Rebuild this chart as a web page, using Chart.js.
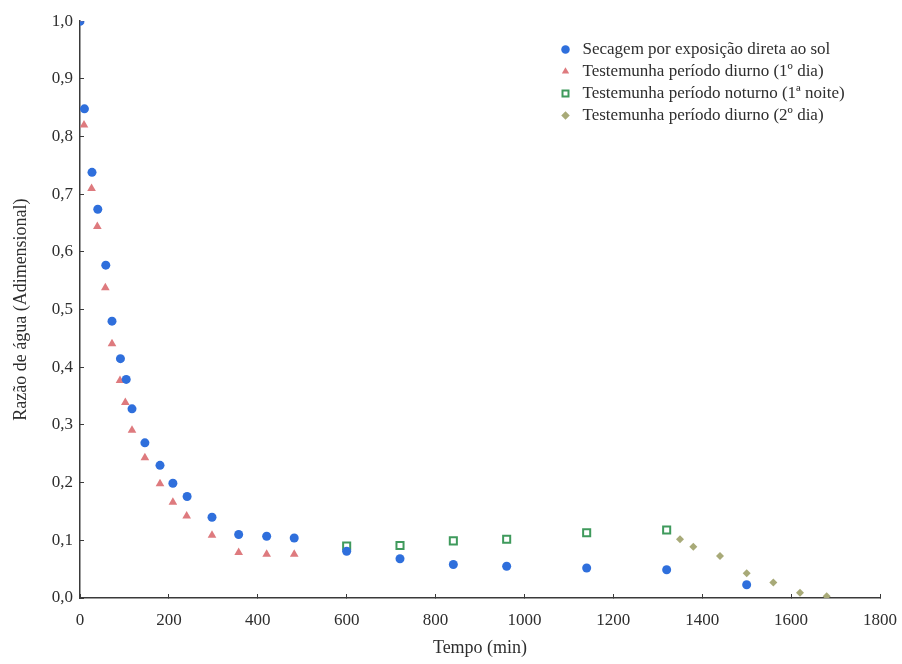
<!DOCTYPE html>
<html>
<head>
<meta charset="utf-8">
<script src="https://cdn.jsdelivr.net/npm/chart.js@4.4.1/dist/chart.umd.min.js"></script>
<style>
  body { margin: 0; background: #fff; }
  #wrap { width: 902px; height: 664px; }
</style>
</head>
<body>
<div id="wrap"><canvas id="myChart" width="902" height="664"></canvas></div>
<script>
// tempo (min) e razão de água
const tempoSol = [0, 10, 27, 40, 58, 72, 91, 104, 117, 146, 180, 209, 241, 297, 357, 420, 482, 600, 720, 840, 960, 1140, 1320, 1500];
const razaoSol = [1.0, 0.848, 0.738, 0.674, 0.577, 0.480, 0.415, 0.379, 0.328, 0.269, 0.230, 0.199, 0.176, 0.140, 0.110, 0.107, 0.104, 0.081, 0.068, 0.058, 0.055, 0.052, 0.049, 0.023];

const tempoDia1 = [0, 9, 26, 39, 57, 72, 90, 102, 117, 146, 180, 209, 240, 297, 357, 420, 482];
const razaoDia1 = [1.0, 0.820, 0.710, 0.644, 0.538, 0.441, 0.377, 0.339, 0.291, 0.243, 0.198, 0.166, 0.142, 0.109, 0.079, 0.076, 0.076];

const tempoNoite = [600, 720, 840, 960, 1140, 1320];
const razaoNoite = [0.090, 0.091, 0.099, 0.102, 0.113, 0.118];

const tempoDia2 = [1350, 1380, 1440, 1500, 1560, 1620, 1680];
const razaoDia2 = [0.102, 0.089, 0.073, 0.043, 0.027, 0.009, 0.003];

const seriesNames = [
    'Secagem por exposição direta ao sol',
    'Testemunha período diurno (1º dia)',
    'Testemunha período noturno (1ª noite)',
    'Testemunha período diurno (2º dia)'
];

const xTicks = [0, 200, 400, 600, 800, 1000, 1200, 1400, 1600, 1800];
const yTicks = [0, 0.1, 0.2, 0.3, 0.4, 0.5, 0.6, 0.7, 0.8, 0.9, 1.0];

function toPoints(xs, ys) {
    return xs.map((x, i) => ({ x: x, y: ys[i] }));
}

const serif = 'Liberation Serif, Times New Roman, serif';
const textColor = '#2e2e2e';

// move the legend to the top right corner of the plot
const legendPlace = {
    id: 'legendPlace',
    afterLayout(chart) {
        const lg = chart.legend;
        const w = lg.width, h = lg.height;
        lg.left = 552;
        lg.right = lg.left + w;
        lg.top = 36;
        lg.bottom = lg.top + h;
    }
};

const ctx = document.getElementById('myChart');

new Chart(ctx, {
    type: 'scatter',
    data: {
        datasets: [{
            label: seriesNames[0],
            data: toPoints(tempoSol, razaoSol),
            pointStyle: 'circle',
            pointRadius: 4.5,
            backgroundColor: '#2f6fdc',
            borderColor: '#2f6fdc',
            borderWidth: 0
        }, {
            label: seriesNames[1],
            data: toPoints(tempoDia1, razaoDia1),
            pointStyle: 'triangle',
            pointRadius: 5,
            backgroundColor: '#de7a7e',
            borderColor: '#de7a7e',
            borderWidth: 0
        }, {
            label: seriesNames[2],
            data: toPoints(tempoNoite, razaoNoite),
            pointStyle: 'rect',
            pointRadius: 5,
            backgroundColor: '#ffffff',
            borderColor: '#3f9a5c',
            borderWidth: 2
        }, {
            label: seriesNames[3],
            data: toPoints(tempoDia2, razaoDia2),
            pointStyle: 'rectRot',
            pointRadius: 4,
            backgroundColor: '#a8aa78',
            borderColor: '#a8aa78',
            borderWidth: 0
        }]
    },
    options: {
        responsive: false,
        animation: false,
        layout: {
            padding: { top: 20, right: 22, left: 0, bottom: 0 }
        },
        plugins: {
            tooltip: { enabled: false },
            legend: {
                position: 'chartArea',
                align: 'start',
                labels: {
                    usePointStyle: true,
                    boxHeight: 6,
                    padding: 5,
                    color: textColor,
                    font: { family: serif, size: 17 }
                }
            }
        },
        scales: {
            x: {
                type: 'linear',
                min: 0,
                max: 1800,
                afterFit: s => { s.height = 66; s.paddingLeft = 0; s.paddingRight = 0; },
                afterBuildTicks: s => { s.ticks = xTicks.map(v => ({ value: v })); },
                border: { display: true, color: '#3a3a3a', width: 1.5 },
                grid: { drawOnChartArea: false, drawTicks: true, tickLength: -4, color: '#3a3a3a' },
                ticks: {
                    color: textColor,
                    padding: 16,
                    maxRotation: 0,
                    font: { family: serif, size: 17 },
                    callback: v => String(v)
                },
                title: {
                    display: true,
                    text: 'Tempo (min)',
                    color: textColor,
                    padding: { top: 0, bottom: 5 },
                    font: { family: serif, size: 18 }
                }
            },
            y: {
                type: 'linear',
                min: 0,
                max: 1.0,
                afterFit: s => { s.width = 80; },
                afterBuildTicks: s => { s.ticks = yTicks.map(v => ({ value: v })); },
                border: { display: true, color: '#3a3a3a', width: 1.5 },
                grid: { drawOnChartArea: false, drawTicks: true, tickLength: -4, color: '#3a3a3a' },
                ticks: {
                    color: textColor,
                    padding: 11,
                    font: { family: serif, size: 17 },
                    callback: v => v.toFixed(1).replace('.', ',')
                },
                title: {
                    display: true,
                    text: 'Razão de água (Adimensional)',
                    color: textColor,
                    padding: { top: 10, bottom: 0 },
                    font: { family: serif, size: 18 }
                }
            }
        }
    },
    plugins: [legendPlace]
});
</script>
</body>
</html>
